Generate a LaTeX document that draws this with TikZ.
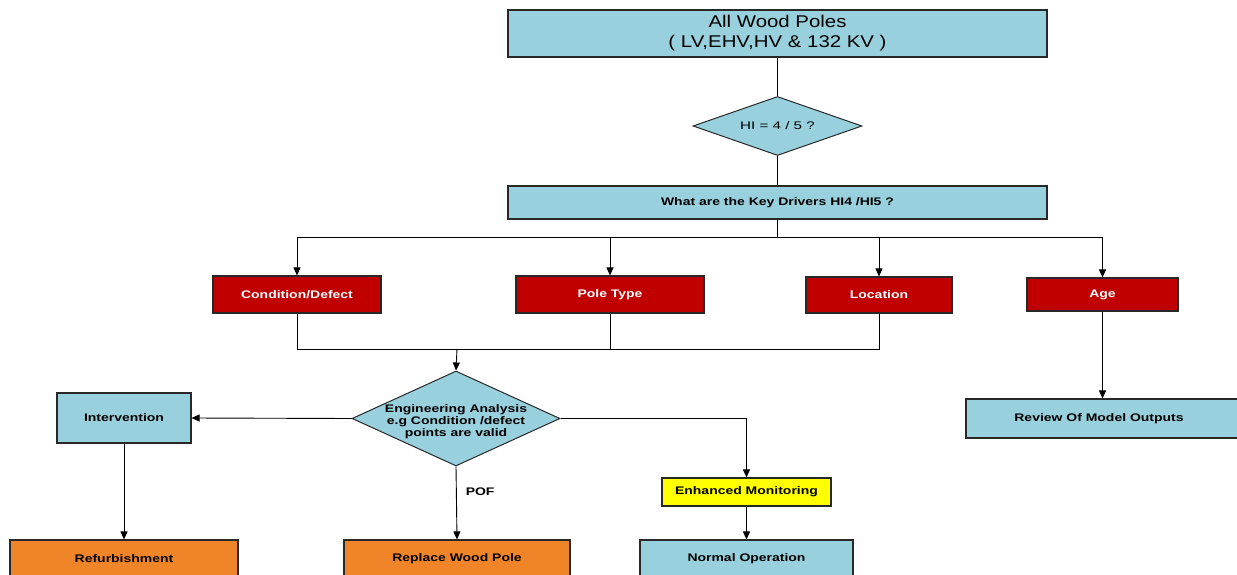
\documentclass[tikz,border=0pt]{standalone}
\usepackage{fontspec}
\setmainfont{Liberation Sans}[FakeStretch=1.27]
\newfontfamily\topfont[FakeStretch=1.2]{Liberation Sans}
\newfontfamily\hifont[FakeStretch=1.38]{Liberation Sans}
\usetikzlibrary{shapes.geometric,arrows.meta}
\definecolor{lblue}{RGB}{153,208,221}
\definecolor{dred}{RGB}{192,0,0}
\definecolor{orng}{RGB}{240,132,40}
\definecolor{yell}{RGB}{255,255,0}
\definecolor{edge}{RGB}{40,40,40}
\tikzset{
  box/.style={rectangle, draw=edge, line width=1.1pt, inner sep=0pt, align=center,
              font=\fontsize{11}{12}\selectfont\bfseries},
  bluebox/.style={box, fill=lblue},
  redbox/.style={box, fill=dred, text=white},
  orangebox/.style={box, fill=orng},
  yellowbox/.style={box, fill=yell},
  dia/.style={diamond, draw=edge, line width=1pt, fill=lblue, inner sep=0pt, align=center},
  conn/.style={draw=black, line width=0.9pt},
  arr/.style={conn, -{Triangle[length=8pt,width=7pt]}},
}
\begin{document}
\begin{tikzpicture}[x=1pt,y=-1pt]
\useasboundingbox (0,0) rectangle (1237,575);
\clip (0,0) rectangle (1237,575);
\fill[white] (0,0) rectangle (1237,575);

\node[bluebox, minimum width=539, minimum height=47, font=\fontsize{17}{20}\selectfont\topfont] (top) at (777.5,33.5) {All Wood Poles\\( LV,EHV,HV \& 132 KV )};
\node[dia, minimum width=169, minimum height=59, aspect=2.86, font=\fontsize{11}{12}\selectfont\hifont] (hi) at (777.5,126) {HI = 4 / 5 ?};
\node[bluebox, minimum width=539, minimum height=33] (kd) at (777.5,202.5) {What are the Key Drivers HI4 /HI5 ?};

\node[redbox, minimum width=168, minimum height=37] (cond) at (297,294.5) {Condition/Defect};
\node[redbox, minimum width=188, minimum height=37] (pole) at (610,294.5) {Pole Type};
\node[redbox, minimum width=146, minimum height=36] (loc) at (879,295) {Location};
\node[redbox, minimum width=151, minimum height=33] (age) at (1102.5,294.5) {Age};

\node[dia, minimum width=208, minimum height=95, aspect=2.19, inner xsep=-8pt, inner ysep=-3pt, font=\fontsize{11}{11.7}\selectfont\bfseries] (eng) at (456,418.5) {\rule{0pt}{14pt}Engineering Analysis\\e.g Condition /defect\\points are valid};
\node[bluebox, minimum width=134, minimum height=50] (interv) at (124,418) {Intervention};
\node[bluebox, minimum width=274, minimum height=39] (review) at (1103,418.5) {\hspace*{-8pt}Review Of Model Outputs};

\node[orangebox, minimum width=228, minimum height=38] (refurb) at (124,559) {Refurbishment};
\node[orangebox, minimum width=226, minimum height=38] (replace) at (457,559) {Replace Wood Pole};
\node[yellowbox, minimum width=169, minimum height=28] (em) at (746.5,492) {Enhanced Monitoring};
\node[bluebox, minimum width=213, minimum height=38] (normal) at (746.5,559) {Normal Operation};

\draw[conn] (top.south) -- (hi.north);
\draw[conn] (hi.south) -- (kd.north);
\coordinate (bus) at (777.5,237);
\draw[line width=1.8pt] (kd.south) -- (bus);
\draw[arr] (bus) -| (cond.north);
\draw[arr] (bus) -| (pole.north);
\draw[arr] (bus) -| (loc.north);
\draw[arr] (bus) -| (age.north);

\coordinate (join) at (457,349);
\draw[conn] (cond.south) |- (join);
\draw[conn] (pole.south) |- (join);
\draw[conn] (loc.south) |- (join);
\draw[arr] (join) -- (eng.north);

\draw[arr] (eng.west) -- (interv.east);
\draw[arr] (eng.east) -| (em.north);
\draw[arr] (eng.south) -- node[pos=0.35, anchor=west, xshift=8pt, inner sep=1pt, font=\fontsize{11}{12}\selectfont\bfseries] {POF} (replace.north);
\draw[arr] (interv.south) -- (refurb.north);
\draw[arr] (em.south) -- (normal.north);
\draw[arr] (age.south) -- (review.north -| age.south);
\end{tikzpicture}
\end{document}
